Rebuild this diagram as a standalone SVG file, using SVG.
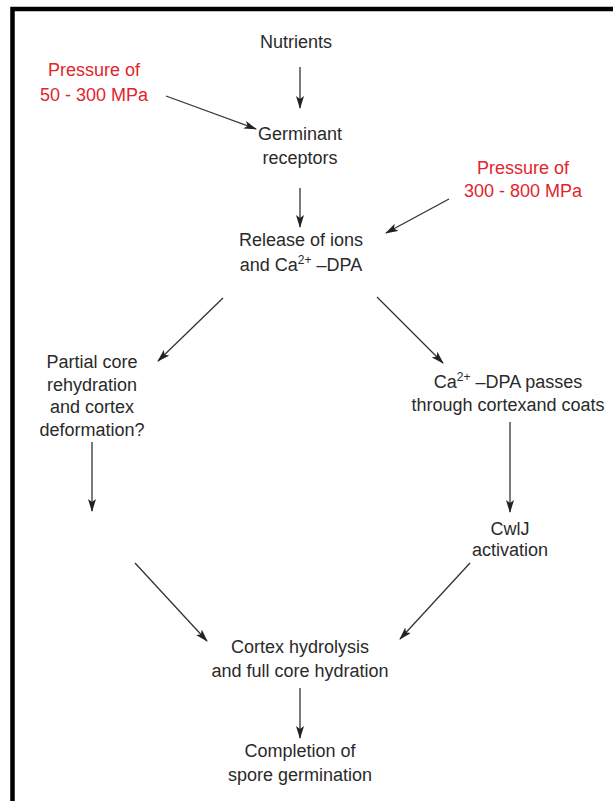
<svg xmlns="http://www.w3.org/2000/svg" width="613" height="801" viewBox="0 0 613 801">
<defs>
<marker id="ah" viewBox="0 0 13 8" refX="12" refY="4" markerWidth="13" markerHeight="8" markerUnits="userSpaceOnUse" orient="auto">
<path d="M0,0 L13,4 L0,8 L3,4 Z" fill="#222"/>
</marker>
</defs>
<style>
text{font-family:"Liberation Sans",Arial,sans-serif;font-size:18px;fill:#2a2a2a;text-anchor:middle}
text.red{fill:#e2242c}
#connectors line{stroke:#333;stroke-width:1.3;marker-end:url(#ah)}
</style>
<rect width="613" height="801" fill="#fff"/>
<path d="M12.5,801 V9 H613" fill="none" stroke="#000" stroke-width="4.5"/>
<g id="nutrients"><text x="296" y="48">Nutrients</text></g>
<g id="pressure-low"><text class="red" x="94" y="76">Pressure of</text><text class="red" x="94" y="101">50 - 300 MPa</text></g>
<g id="germinant"><text x="300" y="140">Germinant</text><text x="300" y="164">receptors</text></g>
<g id="pressure-high"><text class="red" x="523" y="174">Pressure of</text><text class="red" x="523" y="197">300 - 800 MPa</text></g>
<g id="release"><text x="301" y="246">Release of ions</text><text x="301" y="271">and Ca<tspan dy="-7" font-size="12px">2+</tspan><tspan dy="7"> –DPA</tspan></text></g>
<g id="partial"><text x="92" y="368">Partial core</text><text x="92" y="391">rehydration</text><text x="92" y="413">and cortex</text><text x="92" y="436">deformation?</text></g>
<g id="passes"><text x="508" y="388">Ca<tspan dy="-7" font-size="12px">2+</tspan><tspan dy="7"> –DPA passes</tspan></text><text x="508" y="411">through cortexand coats</text></g>
<g id="cwlj"><text x="510" y="535">CwlJ</text><text x="510" y="556">activation</text></g>
<g id="cortex"><text x="300" y="653">Cortex hydrolysis</text><text x="300" y="677">and full core hydration</text></g>
<g id="completion"><text x="300" y="757">Completion of</text><text x="300" y="781">spore germination</text></g>
<g id="connectors">
<line x1="300" y1="67" x2="300" y2="108"/>
<line x1="166" y1="96" x2="256" y2="129"/>
<line x1="300" y1="188" x2="300" y2="227"/>
<line x1="449" y1="199" x2="386" y2="233"/>
<line x1="223" y1="298" x2="158" y2="361"/>
<line x1="377" y1="297" x2="443" y2="363"/>
<line x1="92" y1="442" x2="92" y2="511"/>
<line x1="510" y1="422" x2="510" y2="512"/>
<line x1="135" y1="563" x2="207" y2="641"/>
<line x1="470" y1="563" x2="400" y2="639"/>
<line x1="300" y1="688" x2="300" y2="738"/>
</g>
</svg>
